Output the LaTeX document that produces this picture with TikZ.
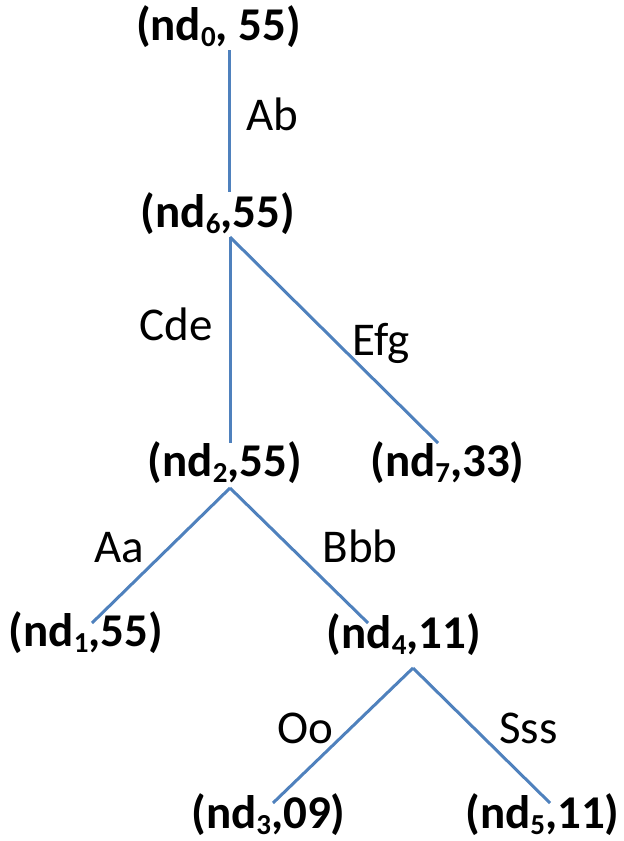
\documentclass[tikz,border=0pt]{standalone}
\usepackage{fontspec}
\setmainfont{Carlito}
\usetikzlibrary{calc}
\definecolor{branchblue}{RGB}{79,129,189}

% lowered small index for the node names
\newcommand{\ndsub}[1]{\raisebox{-3pt}{\fontsize{14.5}{15}\selectfont #1}}

\begin{document}
\begin{tikzpicture}[
  x=0.5pt, y=-0.5pt,
  font=\fontsize{23.5}{28}\selectfont,
  treenode/.style={inner sep=0pt, anchor=base, font=\fontsize{23.5}{28}\selectfont\bfseries},
  edgelabel/.style={inner sep=0pt, anchor=base},
  branch/.style={draw=branchblue, line width=1.5pt}
]
\path[use as bounding box] (0,0) rectangle (623,841);

% Tree nodes
\node[treenode] (nd0) at (218.5,40) {(nd\ndsub{0}, 55)};
\node[treenode] (nd6) at (218,227) {(nd\ndsub{6},55)};
\node[treenode] (nd2) at (225,476) {(nd\ndsub{2},55)};
\node[treenode] (nd7) at (447.5,476) {(nd\ndsub{7},33)};
\node[treenode] (nd1) at (86,646) {(nd\ndsub{1},55)};
\node[treenode] (nd4) at (404,648) {(nd\ndsub{4},11)};
\node[treenode] (nd3) at (268.5,828) {(nd\ndsub{3},09)};
\node[treenode] (nd5) at (542.5,828) {(nd\ndsub{5},11)};

% Branches
\draw[branch] ($(nd0.base)+(10.5,10)$) -- ($(nd6.base)+(11,-35)$);
\draw[branch] ($(nd6.base)+(12,10)$) -- ($(nd2.base)+(5,-33)$);
\draw[branch] ($(nd6.base)+(12,10)$) -- ($(nd7.base)+(-9.5,-33)$);
\draw[branch] ($(nd2.base)+(5,12)$) -- ($(nd1.base)+(6,-23)$);
\draw[branch] ($(nd2.base)+(5,12)$) -- ($(nd4.base)+(-36,-25)$);
\draw[branch] ($(nd4.base)+(9,20)$) -- ($(nd3.base)+(4.5,-25)$);
\draw[branch] ($(nd4.base)+(9,20)$) -- ($(nd5.base)+(7.5,-25)$);

% Branch labels
\node[edgelabel] (lab) at (272.5,130) {Ab};
\node[edgelabel] (lcde) at (176.5,340) {Cde};
\node[edgelabel] (lefg) at (381,355) {Efg};
\node[edgelabel] (laa) at (119,562) {Aa};
\node[edgelabel] (lbbb) at (360,562) {Bbb};
\node[edgelabel] (loo) at (305,743) {Oo};
\node[edgelabel] (lsss) at (528.5,743) {Sss};

\end{tikzpicture}
\end{document}
